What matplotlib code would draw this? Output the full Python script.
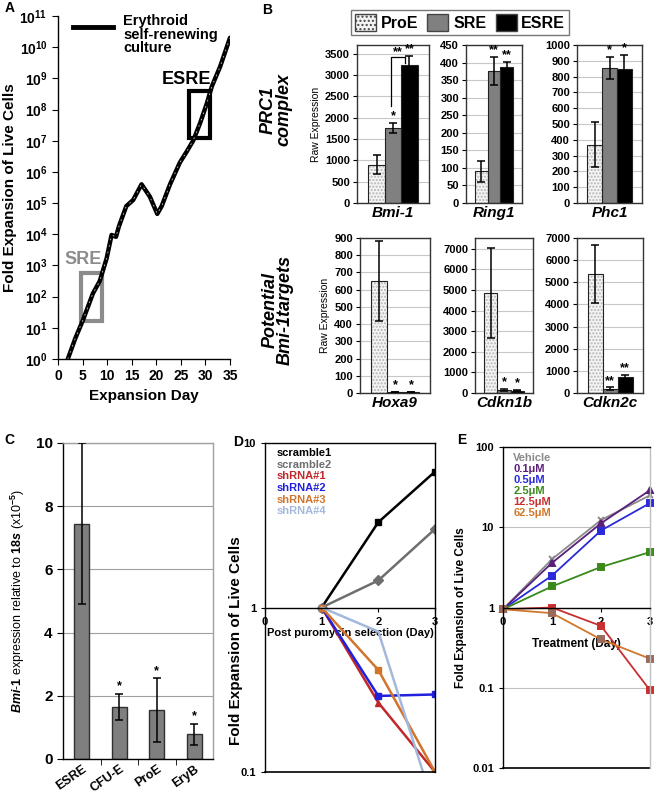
import numpy as np
import matplotlib
matplotlib.use('Agg')
import matplotlib.pyplot as plt
from matplotlib.patches import Rectangle, Patch

plt.rcParams['font.family'] = ['Liberation Sans', 'DejaVu Sans']
plt.rcParams['font.weight'] = 'bold'
plt.rcParams['axes.labelweight'] = 'bold'
plt.rcParams['mathtext.fontset'] = 'custom'
plt.rcParams['mathtext.rm'] = 'Liberation Sans'
plt.rcParams['mathtext.it'] = 'Liberation Sans:italic'
plt.rcParams['mathtext.bf'] = 'Liberation Sans:bold'
plt.rcParams['axes.linewidth'] = 1.0

# ---- panel A: growth curve of the self-renewing culture
a_day = [2.0, 3.5, 5.1, 7.1, 8.5, 9.9, 10.9, 11.8, 12.4, 13.9, 15.3, 17.0,
         18.7, 20.2, 21.1, 22.8, 24.8, 26.2, 27.5, 28.9, 30.3, 31.3, 33.0, 35.0]
a_fold = [1.0, 4.5, 18, 126, 316, 1.7e3, 9.5e3, 8.3e3, 1.8e4, 8e4, 1.26e5, 4e5,
          1.6e5, 4.5e4, 8e4, 4e5, 2e6, 4.5e6, 1e7, 3.6e7, 1.6e8, 5.5e8, 2.4e9, 2e10]

# ---- panel B: raw expression
b_groups = ['ProE', 'SRE', 'ESRE']
b_genes = ['Bmi-1', 'Ring1', 'Phc1', 'Hoxa9', 'Cdkn1b', 'Cdkn2c']
bmi1_mean = [900, 1750, 3220]
bmi1_err = [230, 115, 215]
ring1_mean = [90, 375, 388]
ring1_err = [30, 40, 14]
phc1_mean = [368, 855, 850]
phc1_err = [143, 68, 88]
hoxa9_mean = [650, 5, 5]
hoxa9_err = [232, 0, 0]
cdkn1b_mean = [4850, 150, 120]
cdkn1b_err = [2170, 40, 30]
cdkn2c_mean = [5380, 200, 720]
cdkn2c_err = [1310, 50, 80]
b_stars = [['', '*', '**'], ['', '**', '**'], ['', '*', '*'],
           ['', '*', '*'], ['', '*', '*'], ['', '**', '**']]

# ---- panel C: qPCR
c_cells = ['ESRE', 'CFU-E', 'ProE', 'EryB']
c_mean = [7.45, 1.65, 1.55, 0.78]
c_err = [2.55, 0.40, 1.00, 0.34]
c_stars = ['', '*', '*', '*']

# ---- panel D: shRNA knockdown
d_day = [1, 2, 3]
d_labels = ['scramble1', 'scramble2', 'shRNA#1', 'shRNA#2', 'shRNA#3', 'shRNA#4']
d_scramble1 = [1.0, 3.3, 6.7]
d_scramble2 = [1.0, 1.46, 3.0]
d_sh1 = [1.0, 0.264, 0.1]
d_sh2 = [1.0, 0.29, 0.296]
d_sh3 = [1.0, 0.417, 0.1]
d_sh4 = [1.0, 0.714, 0.059]

# ---- panel E: inhibitor treatment
e_day = [0, 1, 2, 3]
e_labels = ['Vehicle', '0.1\u03bcM', '0.5\u03bcM', '2.5\u03bcM', '12.5\u03bcM', '62.5\u03bcM']
e_vehicle = [0.95, 4.0, 12.3, 25]
e_01 = [0.95, 3.6, 11.2, 29]
e_05 = [0.95, 2.5, 9.1, 20]
e_25 = [0.95, 1.83, 3.2, 4.9]
e_125 = [0.95, 1.0, 0.59, 0.093]
e_625 = [0.95, 0.85, 0.40, 0.23]

W, H = 654, 799
fig = plt.figure(figsize=(W / 100, H / 100), dpi=100)


def add_ax(x0, y0, x1, y1):
    return fig.add_axes([x0 / W, 1 - y1 / H, (x1 - x0) / W, (y1 - y0) / H])


# ================= A
axA = add_ax(58, 16, 230, 359)
axA.set_yscale('log')
axA.plot(a_day, a_fold, color='k', lw=3.2, solid_capstyle='round')
axA.plot(a_day, a_fold, color='white', lw=0.6, dashes=(2, 6), alpha=0.8)
axA.set_xlim(0, 35)
axA.set_ylim(1, 1e11)
axA.set_xticks(range(0, 36, 5))
axA.set_yticks([10.0 ** k for k in range(12)])
axA.set_yticklabels([r'$\mathbf{10^{%d}}$' % k for k in range(12)])
axA.minorticks_off()
axA.tick_params(labelsize=10, length=4)
axA.spines['top'].set_visible(False)
axA.spines['right'].set_visible(False)
axA.set_xlabel('Expansion Day', fontsize=11, labelpad=4)
axA.set_ylabel('Fold Expansion of Live Cells', fontsize=11, labelpad=2)
axA.add_patch(Rectangle((4.6, 16), 4.4, 560, fill=False, ec='#8c8c8c', lw=3))
axA.add_patch(Rectangle((26.6, 1.26e7), 4.4, 3.9e8, fill=False, ec='k', lw=3))
axA.text(5.1, 10 ** 3.2, 'SRE', color='#8c8c8c', fontsize=13, ha='center', va='center')
axA.text(26.2, 10 ** 8.95, 'ESRE', color='k', fontsize=13, ha='center', va='center')
axA.plot([0.09, 0.32], [0.969, 0.969], color='k', lw=3.5, transform=axA.transAxes)
axA.text(0.38, 1.005, 'Erythroid\nself-renewing\nculture', fontsize=10.5,
         transform=axA.transAxes, va='top', ha='left', linespacing=0.95)

# ================= B
b_means = [bmi1_mean, ring1_mean, phc1_mean, hoxa9_mean, cdkn1b_mean, cdkn2c_mean]
b_errs = [bmi1_err, ring1_err, phc1_err, hoxa9_err, cdkn1b_err, cdkn2c_err]
b_boxes = [(357, 45, 429, 203), (466, 45, 522, 203), (577, 45, 642, 203),
           (360, 238, 430, 393), (475, 238, 533, 393), (577, 238, 643, 393)]
b_ylims = [(3700, 500), (450, 50), (1000, 100), (900, 100), (7530, 1000), (7000, 1000)]
b_colors = ['#f4f4f4', '#808080', '#000000']

for k in range(6):
    ax = add_ax(*b_boxes[k])
    means, errs = b_means[k], b_errs[k]
    x = np.arange(3)
    ax.bar(x[0], means[0], 1.0, color=b_colors[0], hatch='.....', edgecolor='#b5b5b5', lw=0, zorder=2)
    ax.bar(x[1:], means[1:], 1.0, color=b_colors[1:], lw=0, zorder=2)
    ax.bar(x, means, 1.0, fill=False, edgecolor='#222222', lw=0.8, zorder=3)
    ax.errorbar(x, means, yerr=errs, fmt='none', ecolor='k', elinewidth=1.1, capsize=3, capthick=1.1, zorder=4)
    top, step = b_ylims[k]
    ax.set_ylim(0, top)
    ax.set_yticks(np.arange(0, top + 1, step))
    ax.set_xlim(-1.2, 3.2)
    ax.set_xticks([])
    ax.yaxis.grid(True, color='#c8c8c8', lw=0.8)
    ax.set_axisbelow(True)
    ax.tick_params(axis='y', labelsize=8, length=3, pad=2)
    for s in ax.spines.values():
        s.set_color('#333333')
    ax.set_xlabel(b_genes[k], fontsize=11, style='italic', labelpad=2)
    for i in range(3):
        if b_stars[k][i]:
            ax.text(x[i], means[i] + errs[i] + top * 0.005, b_stars[k][i],
                    ha='center', va='bottom', fontsize=9)
    if k == 0:
        # bracket SRE vs ESRE
        ax.plot([0.85, 0.85, 1.75, 1.75], [2260, 3420, 3420, 3270], color='k', lw=0.9)
        ax.text(1.3, 3400, '**', ha='center', va='bottom', fontsize=9)
    if k in (0, 3):
        ax.set_ylabel('Raw Expression', fontsize=7.5, fontweight='normal', labelpad=3)

fig.text(276 / W, 1 - 110 / H, 'PRC1\ncomplex', rotation=90, fontsize=13, style='italic',
         ha='center', va='center', linespacing=0.85)
fig.text(278 / W, 1 - 310 / H, 'Potential\nBmi-1targets', rotation=90, fontsize=13,
         style='italic', ha='center', va='center', linespacing=0.85)

handles = [Patch(facecolor=b_colors[0], edgecolor='#444444', hatch='....'),
           Patch(facecolor=b_colors[1], edgecolor='#444444'),
           Patch(facecolor=b_colors[2], edgecolor='#444444')]
fig.legend(handles, b_groups, loc='center', bbox_to_anchor=(460 / W, 1 - 22.5 / H), ncol=3,
           frameon=True, fancybox=False, edgecolor='#555555', fontsize=11.5,
           handlelength=1.3, handleheight=1.3, columnspacing=0.6, handletextpad=0.3,
           borderpad=0.25)

# ================= C
axC = add_ax(63, 443, 213, 759)
xc = np.arange(len(c_cells))
axC.bar(xc, c_mean, 0.4, color='#7f7f7f', edgecolor='#303030', lw=1.0, zorder=2)
axC.errorbar(xc, c_mean, yerr=c_err, fmt='none', ecolor='k', elinewidth=1.1, capsize=3, capthick=1.1, zorder=3)
for i in range(len(c_cells)):
    if c_stars[i]:
        axC.text(xc[i], c_mean[i] + c_err[i] + 0.05, c_stars[i], ha='center', va='bottom', fontsize=9)
axC.set_xlim(-0.5, len(c_cells) - 0.5)
axC.set_ylim(0, 10)
axC.set_yticks(range(0, 11, 2))
axC.yaxis.grid(True, color='#a0a0a0', lw=0.8)
axC.set_axisbelow(True)
axC.set_xticks(xc)
axC.set_xticklabels(c_cells, rotation=35, ha='right', rotation_mode='anchor', fontsize=9)
axC.tick_params(axis='x', length=0, pad=3)
axC.set_xticks(np.arange(0.5, len(c_cells) - 0.5, 1), minor=True)
axC.tick_params(axis='x', which='minor', length=4)
axC.tick_params(axis='y', labelsize=11, length=4)
for s in ['top', 'right']:
    axC.spines[s].set_color('#a0a0a0')
axC.set_ylabel(r'$\mathit{Bmi}$-$\mathit{1}$ expression relative to $\mathit{18s}$ (x10$^{-5}$)',
               fontsize=9, fontweight='normal', labelpad=6)

# ================= D
axD = add_ax(265, 443, 435, 772)
axD.set_yscale('log')
d_series = [d_scramble1, d_scramble2, d_sh1, d_sh2, d_sh3, d_sh4]
d_colors = ['#000000', '#6e6e6e', '#c0282a', '#2020dd', '#d2742a', '#a3b8dc']
d_markers = ['s', 'D', '^', 's', 's', None]
for ser, col, mk in zip(d_series, d_colors, d_markers):
    axD.plot(d_day, ser, color=col, marker=mk, ms=5, lw=1.8, clip_on=True)
axD.set_xlim(0, 3)
axD.set_ylim(0.1, 10)
axD.set_yticks([0.1, 1, 10])
axD.set_yticklabels(['0.1', '1', '10'])
axD.minorticks_off()
axD.set_xticks([0, 1, 2, 3])
axD.spines['bottom'].set_position(('data', 1))
axD.axhline(0.1, color='k', lw=1.2, clip_on=False)
axD.tick_params(labelsize=8, length=3)
axD.set_xlabel('Post puromycin selection (Day)', fontsize=8, labelpad=1)
axD.set_ylabel('Fold Expansion of Live Cells', fontsize=11)
axD.yaxis.set_label_coords(-0.13, 0.40)
for i, (lab, col) in enumerate(zip(d_labels, d_colors)):
    axD.text(0.07, 0.97 - i * 0.0355, lab, color=col, fontsize=8, transform=axD.transAxes,
             ha='left', va='center')

# ================= E
axE = add_ax(503, 447, 650, 768)
axE.set_yscale('log')
e_series = [e_vehicle, e_01, e_05, e_25, e_125, e_625]
e_colors = ['#8a8a8a', '#5a1f7a', '#2a2ad8', '#3a8a1a', '#c83030', '#d0782a']
e_mcolors = ['#8a8a8a', '#5a1f7a', '#2a2ad8', '#3a8a1a', '#c83030', '#9a6a5a']
e_markers = ['x', '^', 's', 's', 's', 's']
for ser, col, mcol, mk in zip(e_series, e_colors, e_mcolors, e_markers):
    axE.plot(e_day, ser, color=col, marker=mk, ms=4.5, mfc=mcol, mec=mcol, mew=1.4, lw=1.3, clip_on=False)
axE.set_xlim(0, 3)
axE.set_ylim(0.01, 100)
axE.set_yticks([0.01, 0.1, 1, 10, 100])
axE.set_yticklabels(['0.01', '0.1', '1', '10', '100'])
axE.minorticks_off()
axE.yaxis.grid(True, color='#c0c0c0', lw=0.8)
axE.set_xticks([0, 1, 2, 3])
axE.spines['bottom'].set_position(('data', 1))
axE.axhline(0.01, color='k', lw=1.2, clip_on=False)
axE.spines['right'].set_color('#c0c0c0')
axE.tick_params(labelsize=8, length=3)
axE.set_xlabel('Treatment (Day)', fontsize=8.5, labelpad=8)
axE.set_ylabel('Fold Expansion of Live Cells', fontsize=8.5, labelpad=4)
for i, (lab, col) in enumerate(zip(e_labels, e_colors)):
    axE.text(0.07, 0.965 - i * 0.034, lab, color=col, fontsize=8, transform=axE.transAxes,
             ha='left', va='center')

# bold tick labels everywhere
for ax in fig.axes:
    for t in ax.get_xticklabels() + ax.get_yticklabels():
        t.set_fontweight('bold')

# panel letters
for lab, px, py in [('A', 5, 8), ('B', 262, 10), ('C', 4, 440), ('D', 233, 442), ('E', 457, 440)]:
    fig.text(px / W, 1 - py / H, lab, fontsize=10, ha='left', va='center')

fig.savefig('out.png', dpi=100)
